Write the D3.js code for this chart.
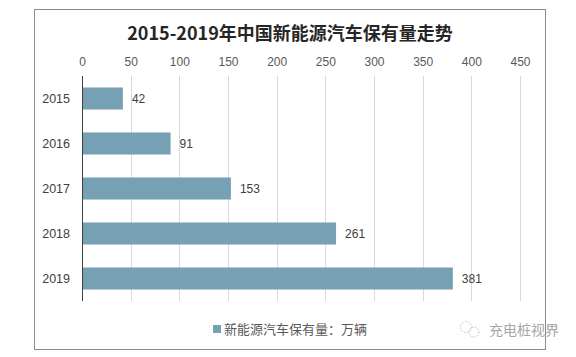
<!DOCTYPE html>
<html><head><meta charset="utf-8">
<script src="https://cdn.jsdelivr.net/npm/d3@7/dist/d3.min.js"></script>
<style>body{margin:0;background:#fff}svg{display:block}</style>
</head><body>
<svg id="c" width="576" height="357"></svg>
<script>
const categories = ["2015","2016","2017","2018","2019"];
const values = [42, 91, 153, 261, 381];
const ticks = [0,50,100,150,200,250,300,350,400,450];
const title = "2015-2019年中国新能源汽车保有量走势";
const legendLabel = "新能源汽车保有量：万辆";
const watermark = "充电桩视界";

const svg = d3.select("#c");
const cjk = "'Noto Sans CJK SC', 'Noto Sans', sans-serif";
const num = "'Liberation Sans', Arial, sans-serif";

svg.append("rect").attr("x",34.5).attr("y",9.5).attr("width",511).attr("height",340)
  .attr("fill","#fff").attr("stroke","#8c8c8c");

svg.append("text").attr("x",290).attr("y",40).attr("text-anchor","middle")
  .attr("font-family",cjk).attr("font-weight","bold").attr("font-size",18).attr("fill","#262626")
  .text(title);

const x = d3.scaleLinear().domain([0,450]).range([82,520]);
const y = d3.scaleBand().domain(categories).range([76,301]).paddingInner(0.51).paddingOuter(0.255);

// gridlines
svg.append("g").selectAll("line").data(ticks.slice(1)).join("line")
  .attr("x1",d=>Math.round(x(d))+0.5).attr("x2",d=>Math.round(x(d))+0.5)
  .attr("y1",76).attr("y2",301).attr("stroke","#d9d9d9");

// top axis
const ax = svg.append("g").attr("transform","translate(0,76)")
  .call(d3.axisTop(x).tickValues(ticks).tickSize(0).tickPadding(10).tickFormat(d3.format("d")));
ax.select(".domain").remove();
ax.selectAll("text").attr("font-family",num).attr("font-size",12).attr("fill","#595959");

// bars
svg.append("g").selectAll("rect").data(values).join("rect")
  .attr("x",x(0)).attr("y",(d,i)=>y(categories[i]))
  .attr("width",d=>x(d)-x(0)).attr("height",y.bandwidth())
  .attr("fill","#76a1b5");

// y axis line
svg.append("line").attr("x1",82.5).attr("x2",82.5).attr("y1",76).attr("y2",301).attr("stroke","#404040");

// y labels
const ay = svg.append("g").attr("transform","translate(82,0)")
  .call(d3.axisLeft(y).tickSize(0).tickPadding(12));
ay.select(".domain").remove();
ay.selectAll("text").attr("font-family",num).attr("font-size",12.5).attr("fill","#404040");

// value labels
svg.append("g").selectAll("text").data(values).join("text")
  .attr("x",d=>x(d)+9).attr("y",(d,i)=>y(categories[i])+y.bandwidth()/2)
  .attr("dy","0.35em").attr("font-family",num).attr("font-size",12).attr("fill","#404040")
  .text(d=>d);

// legend
svg.append("rect").attr("x",213).attr("y",325).attr("width",8).attr("height",8).attr("fill","#76a1b5");
svg.append("text").attr("x",224).attr("y",333.5).attr("font-family",cjk).attr("font-size",13)
  .attr("fill","#595959").text(legendLabel);

// watermark
const wm = svg.append("g").attr("fill","none").attr("stroke","#bdbdbd").attr("stroke-dasharray","1.5,1.5");
wm.append("circle").attr("cx",466).attr("cy",327).attr("r",5.5);
wm.append("circle").attr("cx",474).attr("cy",332).attr("r",5);
svg.append("text").attr("x",489).attr("y",334.5).attr("font-family",cjk).attr("font-size",14)
  .attr("fill","#a6a6a6").text(watermark);
</script>
</body></html>
